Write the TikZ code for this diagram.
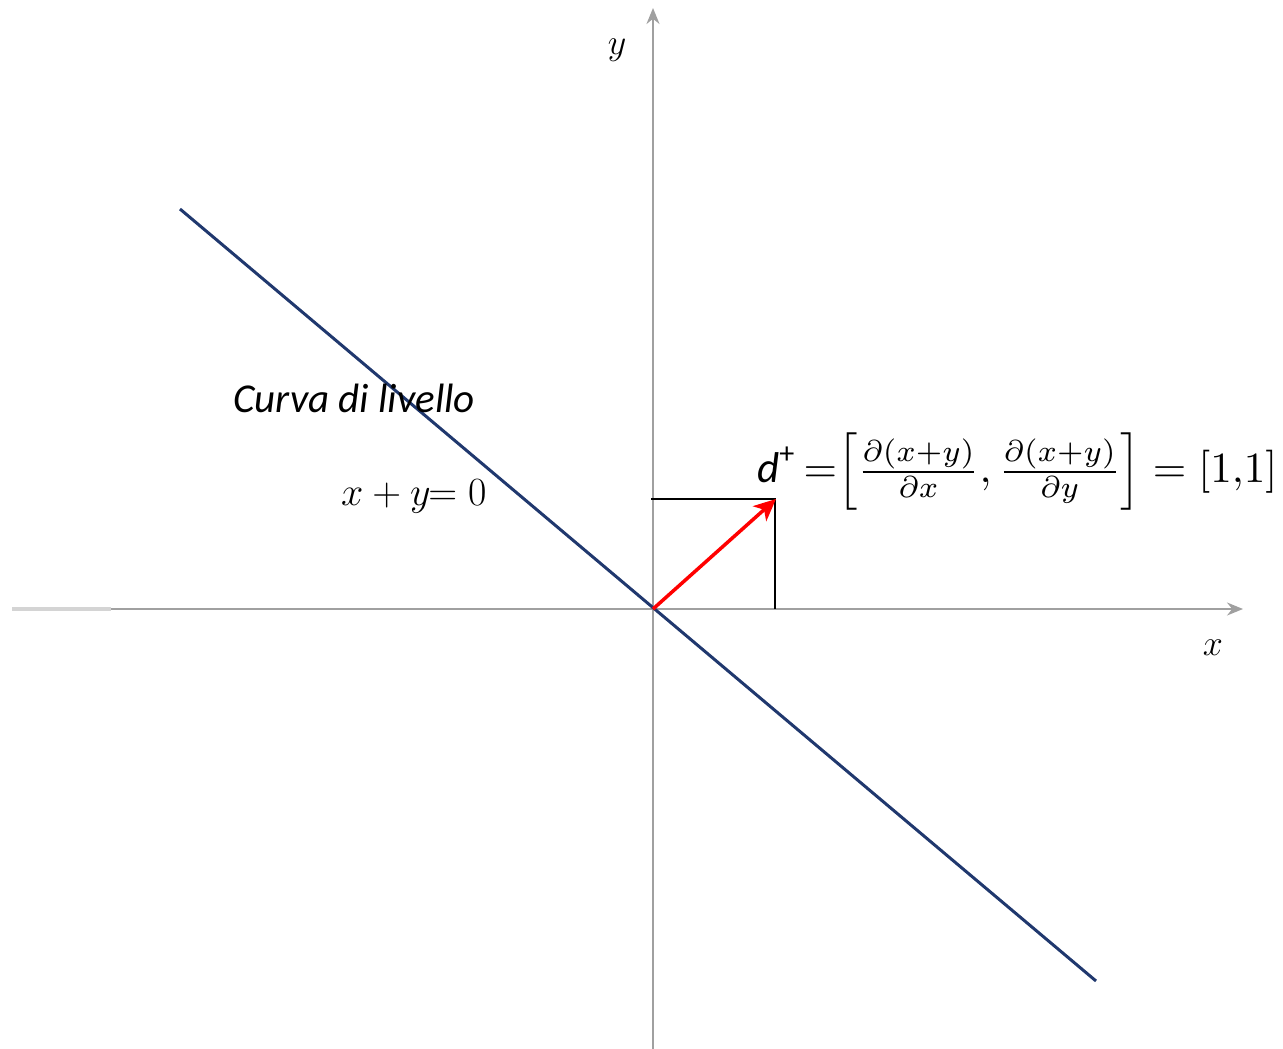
\RequirePackage{fix-cm}
\documentclass[tikz,border=0pt]{standalone}
\usepackage{amsmath}
\usepackage{fontspec}
\setmainfont{Liberation Serif}
\newfontfamily\calib{Carlito}
\usetikzlibrary{arrows.meta}
\definecolor{axisgray}{RGB}{160,160,160}
\definecolor{lightaxis}{RGB}{212,212,212}
\definecolor{navy}{RGB}{32,56,110}
\tikzset{
  axis/.style={draw=axisgray, line width=2pt},
  axisarrow/.style={axis, -{Stealth[length=16pt,width=13pt]}},
  level/.style={draw=navy, line width=3pt},
  grad/.style={draw=red, line width=3.5pt, -{Stealth[length=22pt,width=20pt,inset=6pt]}},
  proj/.style={draw=black, line width=1.6pt},
  lbl/.style={inner sep=0pt, font=\fontsize{36}{42}\selectfont},
}
\begin{document}
\begin{tikzpicture}[x=1pt,y=-1pt]
\useasboundingbox (0,0) rectangle (1283,1049);
\coordinate (O) at (653,609);
\coordinate (xl) at (12,609);
\coordinate (xm) at (111,609);
\coordinate (xr) at (1243,609);
\coordinate (yb) at (653,1049);
\coordinate (yt) at (653,8);
\coordinate (A) at (180,209);
\coordinate (B) at (1096,981);
\coordinate (D) at (776,499);
\coordinate (Dy) at (651,499);
\coordinate (Dx) at (775,609);
% axes
\draw[draw=lightaxis, line width=3.5pt] (xl) -- (xm);
\draw[axisarrow] (xm) -- (xr);
\draw[axisarrow] (yb) -- (yt);
% level curve
\draw[level] (A) -- (B);
% projections
\draw[proj] (Dy) -- (D);
\draw[proj] (D -| Dx) -- (Dx);
% gradient
\draw[grad] (O) -- (D);
% labels
\node[lbl] (ylab) at (617,50) {$y$};
\node[lbl] (xlab) at (1213,648) {$x$};
\node[inner sep=0pt, anchor=west, font=\calib\itshape\fontsize{41}{48}\selectfont] (curva) at (233,398) {Curva di livello};
\node[inner sep=0pt, anchor=base west, font=\fontsize{40}{46}\selectfont] (eq) at (341,505) {$x + y\!\!= 0$};
\node[inner sep=0pt, anchor=west] (grad) at (757,472) {\resizebox{520pt}{!}{$\text{\calib\itshape d}^{\text{\calib +}}\,{=}\!\left[\tfrac{\partial(x{+}y)}{\partial x},\tfrac{\partial(x{+}y)}{\partial y}\right]=[1{,}1]$}};
\end{tikzpicture}
\end{document}
